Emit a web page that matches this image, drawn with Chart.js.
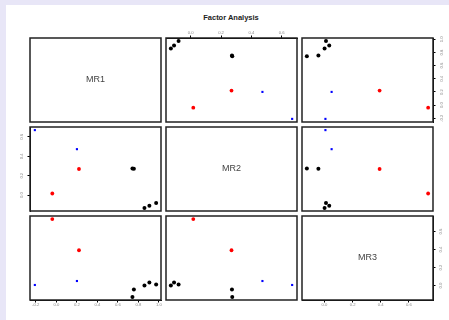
<!DOCTYPE html>
<html>
<head>
<meta charset="utf-8">
<script src="https://cdn.jsdelivr.net/npm/chart.js@4.4.0/dist/chart.umd.min.js"></script>
<style>
  html, body { margin: 0; padding: 0; width: 449px; height: 320px; overflow: hidden; background: #e8e6f7; }
  #page { position: absolute; left: 6px; top: 5px; right: 0; bottom: 0; background: #fff; }
  #title { position: absolute; left: 0; top: 13px; width: 462px; text-align: center; line-height: 9px;
           font: bold 7.5px "Liberation Sans", Arial, sans-serif; color: #222; }
  canvas { position: absolute; }
</style>
</head>
<body>
<div id="page"></div>
<div id="title">Factor Analysis</div>
<script>
// factor loadings of the 9 items
const factors = ["MR1", "MR2", "MR3"];
const mr1 = [-0.209, 0.201, -0.039, 0.221, 0.742, 0.756, 0.859, 0.907, 0.973];
const mr2 = [0.669, 0.473, 0.017, 0.269, 0.274, 0.272, -0.131, -0.110, -0.080];
const mr3 = [0.007, 0.051, 0.737, 0.392, -0.125, -0.043, 0.001, 0.034, 0.011];
// factor each item loads on most
const itemFactor = ["MR2", "MR2", "MR3", "MR3", "MR1", "MR1", "MR1", "MR1", "MR1"];

const mr1Ticks = [-0.2, 0.0, 0.2, 0.4, 0.6, 0.8, 1.0];
const mr2Ticks = [0.0, 0.2, 0.4, 0.6];
const mr3Ticks = [0.0, 0.2, 0.4, 0.6];

const loadings = [mr1, mr2, mr3];
const tickSets = [mr1Ticks, mr2Ticks, mr3Ticks];

const colors = { MR1: "#000000", MR2: "#0000ff", MR3: "#ff0000" };
const marks = { MR1: ["circle", 2.0], MR2: ["rect", 1.5], MR3: ["circle", 1.9] };

const LEFT = 30, TOP = 38, PANEL_W = 131, PANEL_H = 84, STEP_X = 136, STEP_Y = 89, M = 22;
const FONT = '"Liberation Sans", Arial, sans-serif';

// like R's extendrange (4% each side)
function extendRange(arr) {
  const lo = Math.min(...arr), hi = Math.max(...arr);
  const d = (hi - lo) * 0.04;
  return [lo - d, hi + d];
}

const framePlugin = {
  id: "frame",
  afterDatasetsDraw(chart, args, opts) {
    const { ctx, chartArea: a } = chart;
    ctx.save();
    ctx.strokeStyle = "#222";
    ctx.lineWidth = 1.5;
    ctx.strokeRect(a.left, a.top, a.width, a.height);
    if (opts.label) {
      ctx.fillStyle = "#444";
      ctx.font = "9px " + FONT;
      ctx.textAlign = "center";
      ctx.textBaseline = "middle";
      ctx.fillText(opts.label, (a.left + a.right) / 2, (a.top + a.bottom) / 2);
    }
    ctx.restore();
  },
};

function makeScale(v, position, shown) {
  const [min, max] = extendRange(loadings[v]);
  const horizontal = position === "top" || position === "bottom";
  return {
    type: "linear",
    position,
    min,
    max,
    display: shown,
    afterBuildTicks: (s) => { s.ticks = tickSets[v].map((value) => ({ value })); },
    afterFit: (s) => {
      if (!shown) return;
      if (horizontal) s.height = M; else s.width = M;
    },
    grid: { display: true, drawOnChartArea: false, drawTicks: true, tickLength: 2.5, color: "#000", lineWidth: 1 },
    border: { display: true, color: "#000", width: 1 },
    ticks: {
      autoSkip: false,
      font: { size: 4.2, family: FONT },
      color: "#8a8a8a",
      padding: 2.5,
      minRotation: horizontal ? 0 : 90,
      maxRotation: horizontal ? 0 : 90,
      crossAlign: "center",
      callback: (val) => Number(val).toFixed(1),
    },
  };
}

for (let r = 0; r < 3; r++) {
  for (let c = 0; c < 3; c++) {
    const canvas = document.createElement("canvas");
    const w = PANEL_W + 2 * M, h = PANEL_H + 2 * M;
    canvas.width = w;
    canvas.height = h;
    canvas.style.width = w + "px";
    canvas.style.height = h + "px";
    canvas.style.left = (LEFT + c * STEP_X - M) + "px";
    canvas.style.top = (TOP + r * STEP_Y - M) + "px";
    document.body.appendChild(canvas);

    // axes sit on alternating sides, like R pairs()
    const xSide = c % 2 === 0 ? "bottom" : "top";
    const xShown = (xSide === "bottom" && r === 2) || (xSide === "top" && r === 0);
    const ySide = r % 2 === 0 ? "right" : "left";
    const yShown = (ySide === "right" && c === 2) || (ySide === "left" && c === 0);

    const datasets = r === c ? [] : factors.map((g) => {
      const idx = itemFactor.map((f, i) => (f === g ? i : -1)).filter((i) => i >= 0);
      return {
        label: g,
        data: idx.map((i) => ({ x: loadings[c][i], y: loadings[r][i] })),
        backgroundColor: colors[g],
        borderColor: colors[g],
        borderWidth: 0,
        pointStyle: marks[g][0],
        pointRadius: marks[g][1],
        clip: false,
      };
    });

    new Chart(canvas, {
      type: "scatter",
      data: { datasets },
      options: {
        responsive: false,
        animation: false,
        devicePixelRatio: 1,
        events: [],
        layout: {
          padding: {
            left: yShown && ySide === "left" ? 0 : M,
            right: yShown && ySide === "right" ? 0 : M,
            top: xShown && xSide === "top" ? 0 : M,
            bottom: xShown && xSide === "bottom" ? 0 : M,
          },
        },
        scales: {
          x: makeScale(c, xSide, xShown),
          y: makeScale(r, ySide, yShown),
        },
        plugins: {
          legend: { display: false },
          tooltip: { enabled: false },
          frame: { label: r === c ? factors[r] : "" },
        },
      },
      plugins: [framePlugin],
    });
  }
}
</script>
</body>
</html>
